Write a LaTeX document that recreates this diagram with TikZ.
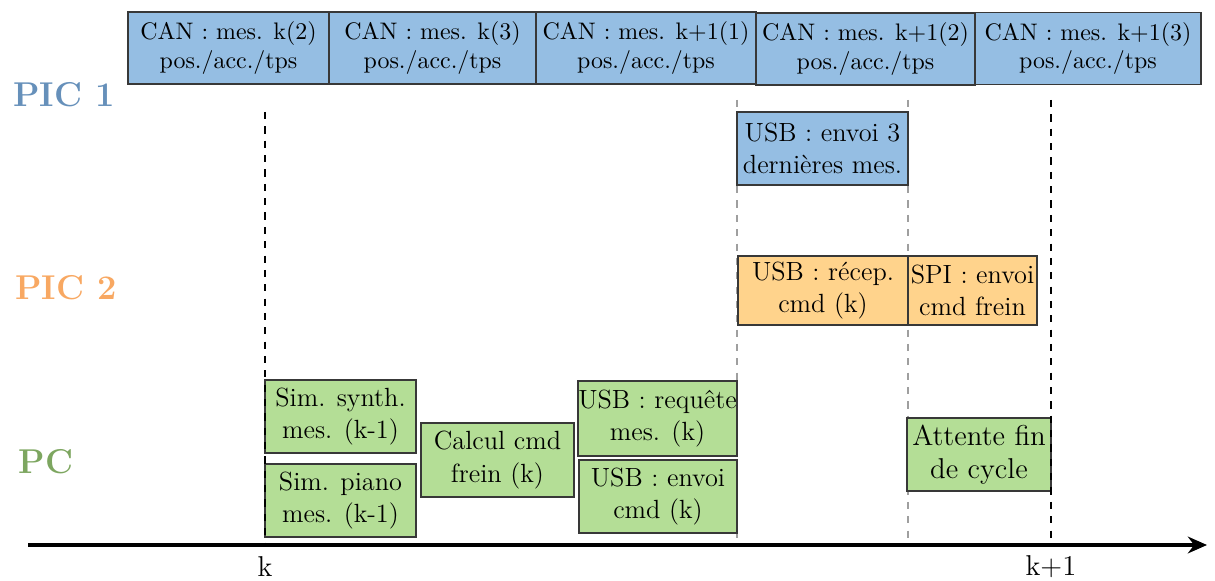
\documentclass[tikz,border=0pt]{standalone}
\usepackage{fontspec}
\usepackage{xcolor}
\usepackage{tikz}
\usetikzlibrary{arrows.meta,positioning}
\definecolor{picblue}{HTML}{95BEE3}
\definecolor{picorange}{HTML}{FFD38C}
\definecolor{pcgreen}{HTML}{B4DE96}
\definecolor{boxline}{HTML}{383838}
\definecolor{lblblue}{HTML}{6690BA}
\definecolor{lblorange}{HTML}{F8A862}
\definecolor{lblgreen}{HTML}{7DA660}

\begin{document}
\begin{tikzpicture}[
    x=0.0147cm, y=-0.0147cm,
    bw/.style={minimum width=#1*0.0147cm},
    bh/.style={minimum height=#1*0.0147cm},
    task/.style={rectangle, draw=boxline, line width=0.5pt, inner sep=0pt, align=center, font=\fontsize{11}{13.5}\selectfont},
    canbox/.style={task, fill=picblue, font=\normalsize, bh=72},
    usbbox/.style={task, fill=picblue},
    picbox/.style={task, fill=picorange},
    pcbox/.style={task, fill=pcgreen},
    lane/.style={font=\Large\bfseries},
    tick/.style={font=\large},
    cycle/.style={black, dashed, line width=0.7pt},
    phase/.style={gray!75, dashed, line width=0.5pt},
    axis/.style={-{Stealth[length=8pt,width=7pt]}, line width=1.3pt}
]
\useasboundingbox (0,0) rectangle (1215,581);

\coordinate (k0) at (265,112);
\coordinate (k1) at (265,545);
\coordinate (p0) at (737,100);
\coordinate (p1) at (737,545);
\coordinate (q0) at (908,100);
\coordinate (q1) at (908,545);
\coordinate (n0) at (1051,100);
\coordinate (n1) at (1051,545);
\coordinate (ax0) at (28,545);
\coordinate (ax1) at (1207,545);

\draw[phase] (p0) -- (p1);
\draw[phase] (q0) -- (q1);

\node[lane, text=lblblue] (pic1) at (64,95) {PIC 1};
\node[lane, text=lblorange] (pic2) at (66,288) {PIC 2};
\node[lane, text=lblgreen] (pc) at (46,462) {PC};

\node[canbox, bw=201] (can1) at (228.5,48) {CAN : mes. k(2)\\pos./acc./tps};
\node[canbox, bw=207] (can2) at (432.5,48) {CAN : mes. k(3)\\pos./acc./tps};
\node[canbox, bw=220] (can3) at (646,48) {CAN : mes. k+1(1)\\pos./acc./tps};
\node[canbox, bw=219] (can4) at (865.5,49) {CAN : mes. k+1(2)\\pos./acc./tps};
\node[canbox, bw=226] (can5) at (1088,48.5) {CAN : mes. k+1(3)\\pos./acc./tps};

\node[usbbox, bw=171, bh=73] (usb3) at (822.5,148.5) {USB : envoi 3\\dernières mes.};

\node[picbox, bw=170, bh=69] (recep) at (823,290.5) {USB : récep.\\cmd (k)};
\node[picbox, bw=129, bh=69] (spi) at (972.5,290.5) {SPI : envoi\\cmd frein};

\node[pcbox, bw=151, bh=73] (synth) at (340.5,416.5) {Sim. synth.\\mes. (k-1)};
\node[pcbox, bw=151, bh=73] (piano) at (340.5,500.5) {Sim. piano\\mes. (k-1)};
\node[pcbox, bw=153, bh=74] (calc) at (497.5,460) {Calcul cmd\\frein (k)};
\node[pcbox, bw=159, bh=75] (req) at (657.5,418.5) {USB : requête\\mes. (k)};
\node[pcbox, bw=158, bh=73] (envoi) at (658,496.5) {USB : envoi\\cmd (k)};
\node[pcbox, bw=144, bh=73, font=\large] (wait) at (979,454.5) {Attente fin\\de cycle};

\draw[cycle] (k0) -- (k1);
\draw[cycle] (n0) -- (n1);
\draw[axis] (ax0) -- (ax1);

\node[tick] (tk) at (265,567) {k};
\node[tick] (tk1) at (1051,567) {k+1};
\end{tikzpicture}
\end{document}
